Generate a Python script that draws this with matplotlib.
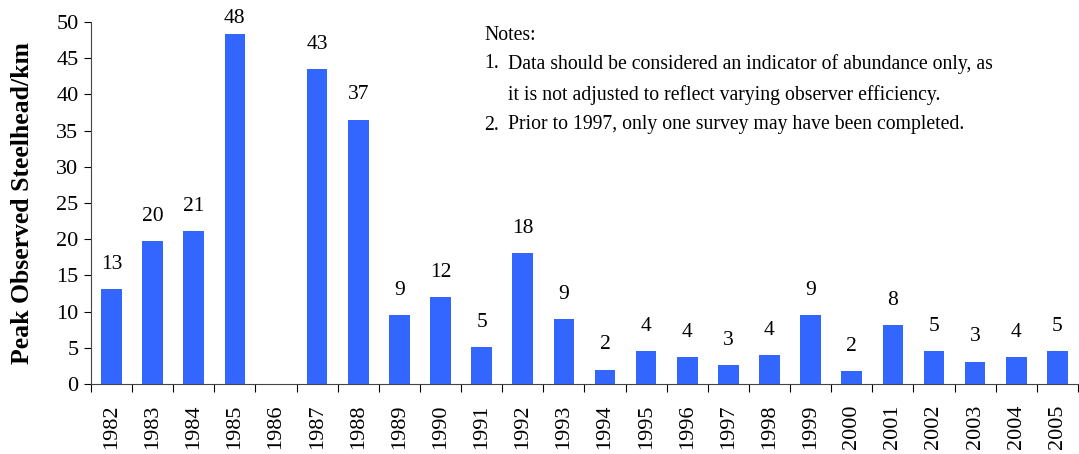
import matplotlib.pyplot as plt
import numpy as np

plt.rcParams['font.family'] = ['Liberation Serif', 'DejaVu Serif']

# Peak observed steelhead per km by year (1986 not surveyed)
years = ['1982', '1983', '1984', '1985', '1986', '1987', '1988', '1989',
         '1990', '1991', '1992', '1993', '1994', '1995', '1996', '1997',
         '1998', '1999', '2000', '2001', '2002', '2003', '2004', '2005']
values = [13.1, 19.75, 21.1, 48.4, 0, 43.5, 36.5, 9.5,
          12.0, 5.1, 18.1, 8.95, 2.0, 4.5, 3.7, 2.6,
          4.0, 9.5, 1.75, 8.1, 4.5, 3.1, 3.7, 4.5]
labels = ['13', '20', '21', '48', '', '43', '37', '9',
          '12', '5', '18', '9', '2', '4', '4', '3',
          '4', '9', '2', '8', '5', '3', '4', '5']
notes = ['Notes:',
         'Data should be considered an indicator of abundance only, as',
         'it is not adjusted to reflect varying observer efficiency.',
         'Prior to 1997, only one survey may have been completed.']

fig = plt.figure(figsize=(10.79, 4.54), dpi=100)
ax = fig.add_axes([0.0843, 0.154, 0.9147, 0.7975])

x = np.arange(len(years))
ax.bar(x, values, width=0.5, color='#3366FF')

for xi, v, lab in zip(x, values, labels):
    if lab:
        # labels near the top of the plot are pushed down to stay inside
        off = 11 if v < 46 else 4
        ax.annotate(lab, (xi, v), xytext=(0, off), textcoords='offset points',
                    ha='center', va='bottom', fontsize=15.5)

ax.set_xlim(-0.5, len(years) - 0.5)
ax.set_ylim(0, 50)
ax.set_yticks(np.arange(0, 51, 5))
ax.tick_params(axis='y', labelsize=16, direction='out', length=5, width=0.8,
               pad=4)

# category labels centred on bars, tick marks between bars
ax.set_xticks(x)
ax.set_xticklabels(years, rotation=90, fontsize=16)
ax.tick_params(axis='x', which='major', length=0, pad=15)
ax.set_xticks(np.arange(-0.5, len(years), 1), minor=True)
ax.tick_params(axis='x', which='minor', direction='out', length=6, width=0.8)

for side in ['top', 'right']:
    ax.spines[side].set_visible(False)
ax.spines['left'].set_color('#444444')
ax.spines['bottom'].set_color('#444444')

ax.set_ylabel('Peak Observed Steelhead/km', fontsize=18.5, fontweight='bold',
              labelpad=16)

# notes block
fs = 14.2
fig.text(484 / 1079, 1 - 36 / 454, notes[0], fontsize=fs, va='center')
fig.text(484 / 1079, 1 - 64 / 454, '1.', fontsize=fs, va='center')
fig.text(508 / 1079, 1 - 64 / 454, notes[1], fontsize=fs, va='center')
fig.text(508 / 1079, 1 - 95 / 454, notes[2], fontsize=fs, va='center')
fig.text(484 / 1079, 1 - 125 / 454, '2.', fontsize=fs, va='center')
fig.text(508 / 1079, 1 - 125 / 454, notes[3], fontsize=fs, va='center')

fig.savefig('out.png', dpi=100)
